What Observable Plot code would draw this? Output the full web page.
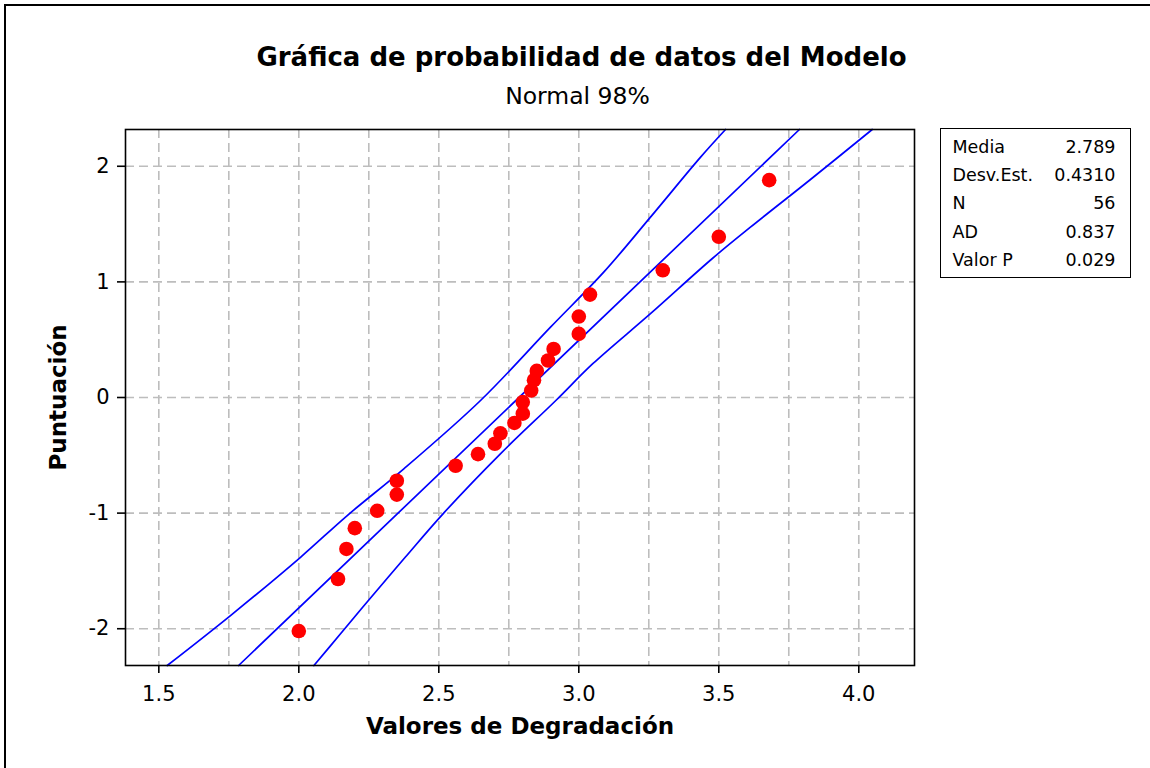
<!DOCTYPE html>
<html>
<head>
<meta charset="utf-8">
<script src="https://cdn.jsdelivr.net/npm/d3@7"></script>
<script src="https://cdn.jsdelivr.net/npm/@observablehq/plot@0.6"></script>
<style>
  body { margin: 0; background: #fff; font-family: "DejaVu Sans", sans-serif; color: #000; }
  #wrap { position: relative; width: 1150px; height: 768px; overflow: hidden; background: #fff; }
  #border { position: absolute; left: 4px; top: 4px; width: 1200px; height: 820px; border-left: 2px solid #000; border-top: 2px solid #000; box-sizing: border-box; }
  #title { position: absolute; left: 0; width: 1163px; top: 44px; text-align: center; font-weight: bold; font-size: 26px; line-height: 26px; white-space: nowrap; }
  #subtitle { position: absolute; left: 0; width: 1155px; top: 85px; text-align: center; font-size: 23.5px; line-height: 23.5px; white-space: nowrap; }
  #chart { position: absolute; left: 0; top: 0; }
  #stats { position: absolute; left: 940px; top: 128px; width: 191px; height: 150px; border: 1.5px solid #000; box-sizing: border-box; padding: 3.5px 14.5px 0 11.5px; font-size: 17.5px; }
  #stats .row { display: flex; justify-content: space-between; height: 28.4px; line-height: 28.4px; white-space: nowrap; }
  g[aria-label="x-axis label"], g[aria-label="y-axis label"] { font-weight: bold; font-size: 23px; }
</style>
</head>
<body>
<div id="wrap">
  <div id="border"></div>
  <div id="chart"></div>
  <div id="title"></div>
  <div id="subtitle"></div>
  <div id="stats"></div>
</div>
<script>
// ---- Data ----
const tituloTexto = "Gráfica de probabilidad de datos del Modelo";
const subtituloTexto = "Normal 98%";
const ejeX = "Valores de Degradación";
const ejeY = "Puntuación";

const degradacion = [2.00, 2.14, 2.17, 2.20, 2.28, 2.35, 2.35, 2.56, 2.64, 2.70, 2.72, 2.77, 2.80, 2.80, 2.83, 2.84, 2.85, 2.89, 2.91, 3.00, 3.00, 3.04, 3.30, 3.50, 3.68];
const puntuacion  = [-2.02, -1.57, -1.31, -1.13, -0.98, -0.84, -0.72, -0.59, -0.49, -0.40, -0.31, -0.22, -0.14, -0.04, 0.06, 0.15, 0.23, 0.32, 0.42, 0.55, 0.70, 0.89, 1.10, 1.39, 1.88];

const ajusteX = [1.785, 3.788];
const ajusteY = [-2.318, 2.318];

const bandaSupX = [1.530, 1.756, 2.006, 2.173, 2.375, 2.649, 2.899, 3.089, 3.256, 3.435, 3.524];
const bandaSupY = [-2.318, -1.886, -1.382, -1.021, -0.617, -0.026, 0.608, 1.084, 1.560, 2.079, 2.318];

const bandaInfX = [2.054, 2.149, 2.228, 2.380, 2.515, 2.720, 2.918, 3.050, 3.256, 3.476, 3.613, 3.823, 4.048];
const bandaInfY = [-2.318, -2.044, -1.814, -1.382, -1.006, -0.487, -0.026, 0.292, 0.725, 1.200, 1.473, 1.877, 2.318];

const xTicks = [1.5, 2.0, 2.5, 3.0, 3.5, 4.0];
const xGrid = [1.5, 1.75, 2.0, 2.25, 2.5, 2.75, 3.0, 3.25, 3.5, 3.75, 4.0];
const yTicks = [-2, -1, 0, 1, 2];

const statEtiquetas = ["Media", "Desv.Est.", "N", "AD", "Valor P"];
const statValores = ["2.789", "0.4310", "56", "0.837", "0.029"];

// ---- Build tables ----
const puntos = degradacion.map((x, i) => ({x, y: puntuacion[i]}));
const ajuste = ajusteX.map((x, i) => ({x, y: ajusteY[i]}));
const bandaSup = bandaSupX.map((x, i) => ({x, y: bandaSupY[i]}));
const bandaInf = bandaInfX.map((x, i) => ({x, y: bandaInfY[i]}));

document.getElementById("title").textContent = tituloTexto;
document.getElementById("subtitle").textContent = subtituloTexto;
const stats = document.getElementById("stats");
statEtiquetas.forEach((lab, i) => {
  const row = document.createElement("div");
  row.className = "row";
  const a = document.createElement("span"); a.textContent = lab;
  const b = document.createElement("span"); b.textContent = statValores[i];
  row.append(a, b);
  stats.append(row);
});

const gridStyle = {stroke: "#bdbdbd", strokeWidth: 1.6, strokeDasharray: "9,5"};
const lineStyle = {x: "x", y: "y", stroke: "#0000ff", strokeWidth: 1.7, curve: "catmull-rom"};

const chart = Plot.plot({
  width: 1150,
  height: 768,
  marginLeft: 125,
  marginRight: 236,
  marginTop: 129,
  marginBottom: 103,
  style: {fontFamily: "DejaVu Sans, sans-serif", fontSize: "21px", color: "#000", background: "transparent"},
  x: {domain: [1.381, 4.199]},
  y: {domain: [-2.318, 2.318]},
  marks: [
    Plot.ruleX(xGrid, gridStyle),
    Plot.ruleY(yTicks, gridStyle),
    Plot.line(bandaSup, lineStyle),
    Plot.line(ajuste, lineStyle),
    Plot.line(bandaInf, lineStyle),
    Plot.dot(puntos, {x: "x", y: "y", r: 7.3, fill: "#ff0000", stroke: "none"}),
    Plot.frame({stroke: "#000", strokeWidth: 1.6}),
    Plot.axisX({ticks: xTicks, tickFormat: d => d.toFixed(1), tickSize: 8, tickPadding: 13, strokeWidth: 1.6, fontSize: 21,
      label: ejeX, labelAnchor: "center", labelArrow: "none", labelOffset: 68}),
    Plot.axisY({ticks: yTicks, tickFormat: d => String(d), tickSize: 8, tickPadding: 8, strokeWidth: 1.6, fontSize: 21,
      label: ejeY, labelAnchor: "center", labelArrow: "none", labelOffset: 76})
  ]
});
document.getElementById("chart").append(chart);
</script>
</body>
</html>
